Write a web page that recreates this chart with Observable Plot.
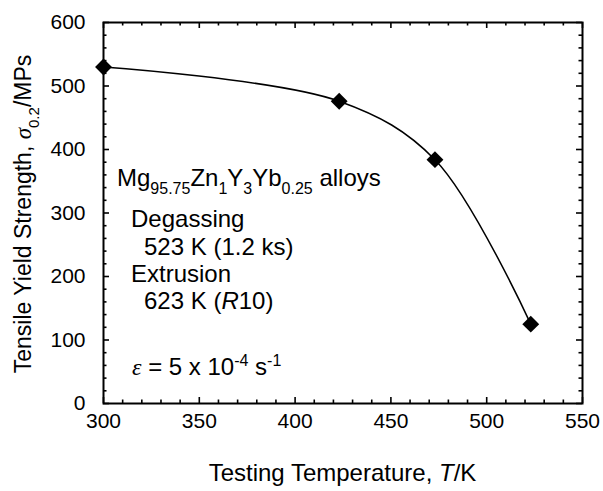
<!DOCTYPE html>
<html><head><meta charset="utf-8">
<script src="https://cdn.jsdelivr.net/npm/d3@7"></script>
<script src="https://cdn.jsdelivr.net/npm/@observablehq/plot@0.6"></script>
<style>
html,body{margin:0;padding:0;background:#fff;}
#chart{width:603px;height:491px;}
svg text{white-space:pre;}
</style></head><body><div id="chart"></div>
<script>
// Data
const temperature = [300, 423, 473, 523];
const yieldStrength = [530, 476, 384, 125];
// Tick labels
const xTickLabels = [300, 350, 400, 450, 500, 550];
const yTickLabels = [0, 100, 200, 300, 400, 500, 600];
const xMinorTicks = [310, 320, 330, 340, 360, 370, 380, 390, 410, 420, 430, 440, 460, 470, 480, 490, 510, 520, 530, 540];
const yMinorTicks = [20, 40, 60, 80, 120, 140, 160, 180, 220, 240, 260, 280, 320, 340, 360, 380, 420, 440, 460, 480, 520, 540, 560, 580];

const data = temperature.map((t, i) => ({T: t, s: yieldStrength[i]}));

const W = 603, H = 491, mL = 103, mR = 21, mT = 22, mB = 88;
const pw = W - mL - mR, ph = H - mT - mB;
const FONT = 'Arial, "Liberation Sans", sans-serif';
const SERIF = '"Liberation Serif", "Times New Roman", serif';
const majorLen = 6, minorLen = 3.5;

const plot = Plot.plot({
  width: W, height: H,
  marginLeft: mL, marginRight: mR, marginTop: mT, marginBottom: mB,
  style: {fontFamily: FONT, fontSize: "21px", color: "black", background: "white"},
  x: {domain: [300, 550], ticks: xTickLabels, tickSize: 0, tickPadding: 10, label: null},
  y: {domain: [0, 600], ticks: yTickLabels, tickSize: 0, tickPadding: 18, label: null},
  marks: [
    // inward ticks: bottom / top
    Plot.tickX(xTickLabels, {x: d => d, insetTop: ph - majorLen, stroke: "black", strokeWidth: 1.6}),
    Plot.tickX(xTickLabels, {x: d => d, insetBottom: ph - majorLen, stroke: "black", strokeWidth: 1.6}),
    Plot.tickX(xMinorTicks, {x: d => d, insetTop: ph - minorLen, stroke: "black", strokeWidth: 1.6}),
    Plot.tickX(xMinorTicks, {x: d => d, insetBottom: ph - minorLen, stroke: "black", strokeWidth: 1.6}),
    // inward ticks: left / right
    Plot.tickY(yTickLabels, {y: d => d, insetRight: pw - majorLen, stroke: "black", strokeWidth: 1.6}),
    Plot.tickY(yTickLabels, {y: d => d, insetLeft: pw - majorLen, stroke: "black", strokeWidth: 1.6}),
    Plot.tickY(yMinorTicks, {y: d => d, insetRight: pw - minorLen, stroke: "black", strokeWidth: 1.6}),
    Plot.tickY(yMinorTicks, {y: d => d, insetLeft: pw - minorLen, stroke: "black", strokeWidth: 1.6}),
    Plot.frame({stroke: "black", strokeWidth: 2}),
    Plot.line(data, {x: "T", y: "s", curve: "catmull-rom", stroke: "black", strokeWidth: 1.5}),
    Plot.dot(data, {x: "T", y: "s", symbol: "diamond2", r: 7.6, fill: "black", stroke: "none"})
  ]
});
document.getElementById("chart").appendChild(plot);

// Rich text (subscripts, superscripts, italics)
const svg = d3.select(plot);
function richText(x, y, parts, opts = {}) {
  const size = opts.size || 24;
  const small = opts.small || 16;
  const t = svg.append("text")
    .attr("transform", `translate(${x},${y})` + (opts.rotate ? ` rotate(${opts.rotate})` : ""))
    .attr("text-anchor", opts.anchor || "start")
    .attr("font-family", FONT)
    .attr("font-size", size)
    .attr("fill", "black");
  let cur = 0;
  for (const p of parts) {
    const target = p.sub ? 8 : p.sup ? -9 : 0;
    const ts = t.append("tspan").text(p.t).attr("dy", target - cur);
    cur = target;
    if (p.sub || p.sup) ts.attr("font-size", small);
    if (p.italic) ts.attr("font-style", "italic");
    if (p.serif) ts.attr("font-family", SERIF);
  }
}

richText(117, 186, [
  {t: "Mg"}, {t: "95.75", sub: true}, {t: "Zn"}, {t: "1", sub: true},
  {t: "Y"}, {t: "3", sub: true}, {t: "Yb"}, {t: "0.25", sub: true}, {t: " alloys"}
]);
richText(131, 227, [{t: "Degassing"}]);
richText(144, 255, [{t: "523 K (1.2 ks)"}]);
richText(131, 282, [{t: "Extrusion"}]);
richText(144, 309, [{t: "623 K ("}, {t: "R", italic: true}, {t: "10)"}]);
richText(132, 375, [
  {t: "ε", italic: true, serif: true}, {t: " = 5 x 10"}, {t: "-4", sup: true},
  {t: " s"}, {t: "-1", sup: true}
]);

richText((mL + W - mR) / 2, 481, [
  {t: "Testing Temperature, "}, {t: "T", italic: true}, {t: "/K"}
], {anchor: "middle"});
richText(31, 214, [
  {t: "Tensile Yield Strength, "}, {t: "σ", italic: true, serif: true},
  {t: "0.2", sub: true}, {t: "/MPs"}
], {anchor: "middle", rotate: -90, size: 23, small: 15});
</script>
</body></html>
